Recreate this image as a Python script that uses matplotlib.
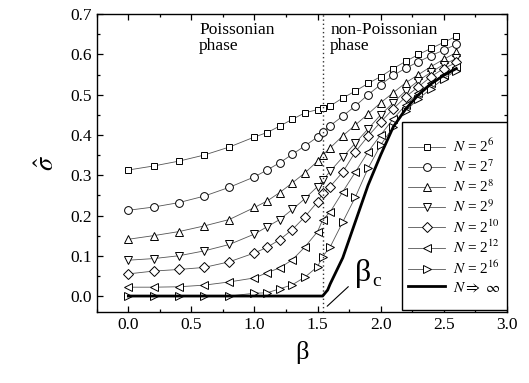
import matplotlib
matplotlib.use("Agg")
import matplotlib.pyplot as plt
from matplotlib.ticker import MultipleLocator
from matplotlib.patches import Rectangle

plt.rcParams['font.family'] = ['Liberation Serif', 'DejaVu Serif']
plt.rcParams['mathtext.fontset'] = 'stix'

beta = [0.0, 0.2, 0.4, 0.6, 0.8, 1.0, 1.1, 1.2, 1.3, 1.4, 1.5, 1.54, 1.6,
        1.7, 1.8, 1.9, 2.0, 2.1, 2.2, 2.3, 2.4, 2.5, 2.6]

s_n6 = [0.313, 0.323, 0.335, 0.350, 0.370, 0.395, 0.406, 0.422, 0.439, 0.455, 0.463, 0.466, 0.472,
        0.492, 0.509, 0.528, 0.545, 0.565, 0.583, 0.600, 0.615, 0.630, 0.645]
s_n7 = [0.213, 0.221, 0.232, 0.248, 0.270, 0.296, 0.313, 0.331, 0.352, 0.373, 0.395, 0.407, 0.423,
        0.447, 0.472, 0.500, 0.525, 0.548, 0.566, 0.582, 0.597, 0.611, 0.625]
s_n8 = [0.141, 0.150, 0.160, 0.174, 0.190, 0.220, 0.236, 0.257, 0.281, 0.306, 0.335, 0.350, 0.368,
        0.398, 0.425, 0.452, 0.480, 0.505, 0.530, 0.550, 0.570, 0.588, 0.605]
s_n9 = [0.089, 0.093, 0.100, 0.112, 0.128, 0.154, 0.172, 0.190, 0.215, 0.242, 0.272, 0.287, 0.310,
        0.345, 0.380, 0.415, 0.450, 0.480, 0.510, 0.535, 0.556, 0.575, 0.590]
s_n10 = [0.055, 0.062, 0.066, 0.071, 0.085, 0.107, 0.121, 0.140, 0.165, 0.197, 0.234, 0.255, 0.272,
         0.308, 0.358, 0.397, 0.432, 0.465, 0.495, 0.520, 0.545, 0.565, 0.580]
s_n12 = [0.022, 0.022, 0.023, 0.027, 0.035, 0.045, 0.058, 0.070, 0.090, 0.122, 0.160, 0.189, 0.209,
         0.259, 0.308, 0.358, 0.400, 0.440, 0.475, 0.505, 0.530, 0.550, 0.570]
s_n16 = [0.0, 0.0, 0.0, 0.0, 0.0, 0.007, 0.008, 0.018, 0.028, 0.047, 0.073, 0.098, 0.122,
         0.184, 0.246, 0.317, 0.375, 0.420, 0.460, 0.490, 0.515, 0.540, 0.560]

beta_inf = [0.0, 1.54, 1.58, 1.6, 1.7, 1.8, 1.9, 2.0, 2.1, 2.2, 2.3, 2.4, 2.5, 2.6]
s_inf = [0.0, 0.0, 0.015, 0.03, 0.095, 0.185, 0.275, 0.35, 0.42, 0.465, 0.50, 0.527, 0.548, 0.565]

beta_c = 1.54

series = [
    (s_n6, 's', r'$N$ = 2$^{6}$'),
    (s_n7, 'o', r'$N$ = 2$^{7}$'),
    (s_n8, '^', r'$N$ = 2$^{8}$'),
    (s_n9, 'v', r'$N$ = 2$^{9}$'),
    (s_n10, 'D', r'$N$ = 2$^{10}$'),
    (s_n12, '<', r'$N$ = 2$^{12}$'),
    (s_n16, '>', r'$N$ = 2$^{16}$'),
]

fig = plt.figure(figsize=(5.29, 3.83), dpi=100)
ax = fig.add_axes([0.183, 0.185, 0.775, 0.778])

for ys, m, lab in series:
    ms = 5.6
    if m == 'D':
        ms = 4.6
    elif m == 's':
        ms = 5.0
    ax.plot(beta, ys, color='#555555', lw=0.6, marker=m, markersize=ms,
            markerfacecolor='white', markeredgecolor='black', markeredgewidth=0.7,
            label=lab)

ax.plot(beta_inf, s_inf, color='black', lw=2.0, label=r'$N \Rightarrow\ \infty$', zorder=5)

ax.axvline(beta_c, color='#333333', lw=1.0, ls=(0, (1, 2)))

ax.set_xlim(-0.25, 3.0)
ax.set_ylim(-0.04, 0.7)
ax.xaxis.set_major_locator(MultipleLocator(0.5))
ax.xaxis.set_minor_locator(MultipleLocator(0.25))
ax.yaxis.set_major_locator(MultipleLocator(0.1))
ax.yaxis.set_minor_locator(MultipleLocator(0.05))
ax.tick_params(which='both', direction='in', top=True, right=True, labelsize=12.5)
ax.tick_params(which='major', length=4.5, width=0.9)
ax.tick_params(which='minor', length=2.5, width=0.9)
ax.xaxis.set_major_formatter(plt.FuncFormatter(lambda v, p: f'{v:.1f}'))
ax.yaxis.set_major_formatter(plt.FuncFormatter(lambda v, p: f'{v:.1f}'))
for sp in ax.spines.values():
    sp.set_linewidth(1.0)

ax.set_xlabel('β', fontsize=19, labelpad=6)
ax.set_ylabel(r'$\hat{\sigma}$', fontsize=19, labelpad=8)

ax.text(0.56, 0.68, 'Poissonian\nphase', fontsize=12.5, va='top', ha='left', linespacing=1.0)
ax.text(1.6, 0.68, 'non-Poissonian\nphase', fontsize=12.5, va='top', ha='left', linespacing=1.0)

ax.annotate('', xy=(1.56, -0.03), xytext=(1.76, 0.028),
            arrowprops=dict(arrowstyle='-', lw=0.8, color='black'))
ax.text(1.80, 0.02, 'β', fontsize=23, ha='left', va='bottom')
ax.text(1.93, 0.016, 'c', fontsize=14, ha='left', va='bottom')

# legend box drawn manually to match tall frame with narrow side padding
box = (0.744, 0.007, 0.256, 0.632)
ax.add_patch(Rectangle((box[0], box[1]), box[2], box[3], transform=ax.transAxes,
                       facecolor='white', edgecolor='black', lw=1.0, zorder=6))
leg = ax.legend(loc='center', bbox_to_anchor=box, fontsize=11, frameon=False,
                handlelength=2.4, labelspacing=0.22, handletextpad=0.5, borderpad=0.0)
leg.set_zorder(7)

fig.savefig('out.png', dpi=100)
